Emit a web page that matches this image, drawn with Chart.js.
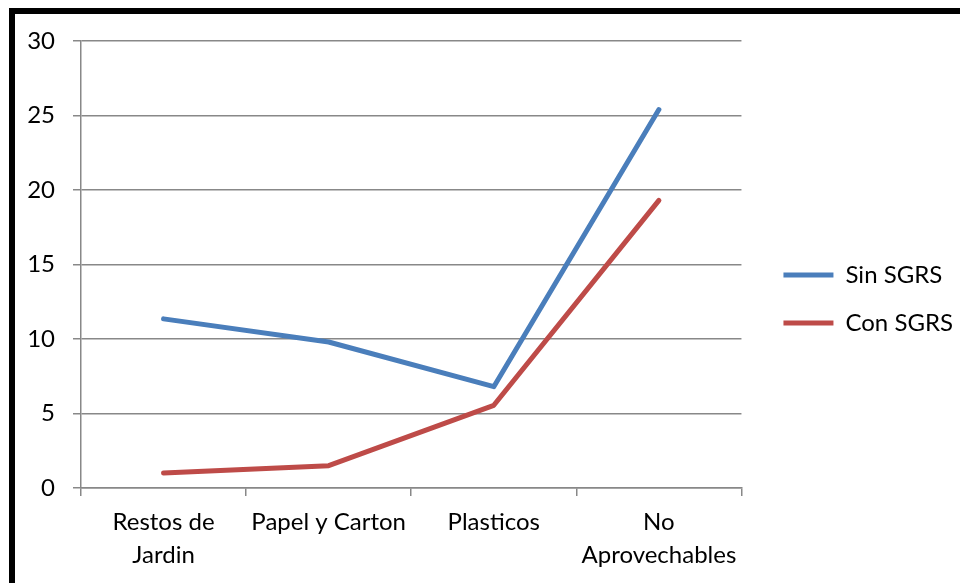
<!DOCTYPE html>
<html>
<head>
<meta charset="utf-8">
<script src="https://cdn.jsdelivr.net/npm/chart.js@4.4.1/dist/chart.umd.min.js"></script>
<style>
  html, body { margin: 0; padding: 0; background: #fff; overflow: hidden; }
  #frame {
    position: absolute; left: 9px; top: 8px; width: 960px; height: 600px;
    border-top: 6px solid #000; border-left: 6px solid #000;
  }
  #wrap { position: absolute; left: 0; top: 0; width: 960px; height: 583px; }
</style>
</head>
<body>
<div id="frame"></div>
<div id="wrap"><canvas id="chart"></canvas></div>
<script>
const categories = [['Restos de', 'Jardin'], 'Papel y Carton', 'Plasticos', ['No', 'Aprovechables']];
const sinSGRS = [11.35, 9.8, 6.8, 25.4];
const conSGRS = [1.0, 1.5, 5.55, 19.3];
const seriesNames = ['Sin SGRS', 'Con SGRS'];
const yMin = 0;
const yMax = 30;
const yStep = 5;

const blue = '#4a7ebb';
const red = '#be4b48';
const gridColor = '#888888';
const fontFamily = 'Lato, "Open Sans", sans-serif';

function lineSeries(label, data, color) {
  return {
    label: label,
    data: data,
    borderColor: color,
    backgroundColor: color,
    borderWidth: 5,
    borderCapStyle: 'round',
    borderJoinStyle: 'round',
    pointRadius: 0,
    tension: 0
  };
}

const ctx = document.getElementById('chart');
const chart = new Chart(ctx, {
  type: 'line',
  data: {
    labels: categories,
    datasets: [
      lineSeries(seriesNames[0], sinSGRS, blue),
      lineSeries(seriesNames[1], conSGRS, red)
    ]
  },
  options: {
    responsive: true,
    maintainAspectRatio: false,
    animation: false,
    layout: {
      padding: { left: 0, top: 15, right: -3, bottom: 0 }
    },
    scales: {
      x: {
        offset: true,
        grid: {
          offset: true,
          drawOnChartArea: false,
          drawTicks: true,
          tickLength: 8,
          color: gridColor,
          lineWidth: 1.5
        },
        border: { color: gridColor, width: 1.5 },
        ticks: {
          color: '#000',
          padding: 10,
          maxRotation: 0,
          autoSkip: false,
          font: { family: fontFamily, size: 24, lineHeight: 1.375 }
        },
        afterFit: function (scale) { scale.height = 95; }
      },
      y: {
        min: yMin,
        max: yMax,
        grid: {
          color: gridColor,
          lineWidth: 1.5,
          tickLength: 8
        },
        border: { color: gridColor, width: 1.5 },
        ticks: {
          stepSize: yStep,
          color: '#000',
          padding: 18,
          font: { family: fontFamily, size: 24 }
        },
        afterFit: function (scale) { scale.width = 81; }
      },
      // empty spacer between plot and legend
      gap: {
        position: 'right',
        display: true,
        grid: { display: false },
        border: { display: false },
        ticks: { display: false },
        afterFit: function (scale) { scale.width = 18; }
      }
    },
    plugins: {
      title: {
        display: true,
        text: '',
        padding: { top: 0, bottom: 16 },
        font: { size: 10, lineHeight: 1 }
      },
      legend: {
        display: true,
        position: 'right',
        align: 'center',
        maxWidth: 260,
        labels: {
          usePointStyle: true,
          pointStyle: 'line',
          pointStyleWidth: 50,
          padding: 24,
          color: '#000',
          font: { family: fontFamily, size: 24, lineHeight: 1 }
        }
      },
      tooltip: { enabled: false }
    }
  }
});
</script>
</body>
</html>
